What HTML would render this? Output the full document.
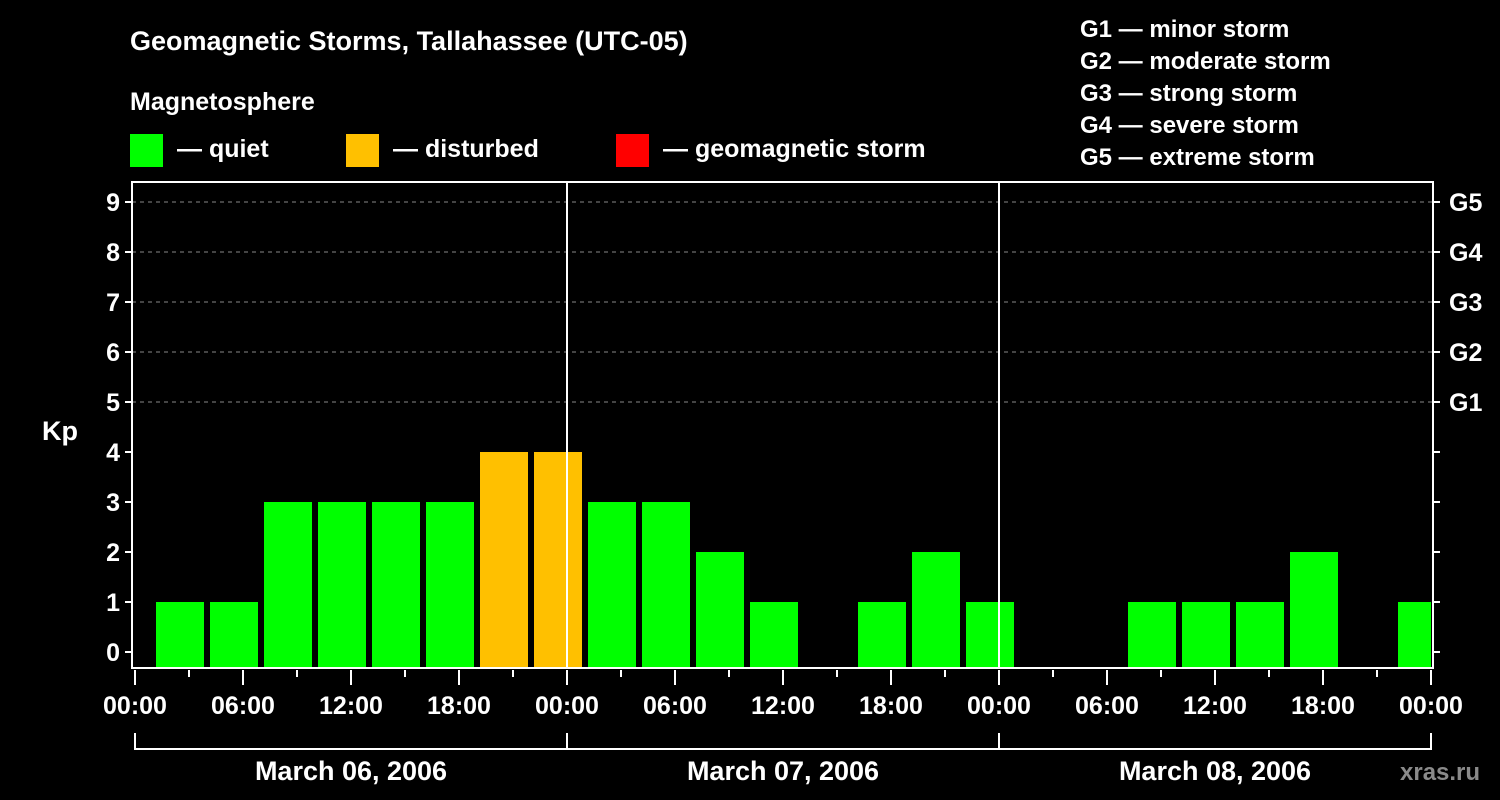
<!DOCTYPE html>
<html><head><meta charset="utf-8"><style>
html,body{margin:0;padding:0;background:#000;width:1500px;height:800px;overflow:hidden}
text{font-family:"Liberation Sans",Arial,sans-serif;font-weight:bold;fill:#fff}
</style></head><body>
<svg id="chart" width="1500" height="800" xmlns="http://www.w3.org/2000/svg">
<rect width="1500" height="800" fill="#000"/>
<text x="130" y="50" font-size="27">Geomagnetic Storms, Tallahassee (UTC-05)</text>
<text x="130" y="110" font-size="25">Magnetosphere</text>
<g>
<rect x="130" y="134" width="33" height="33" fill="#00ff00"/>
<text x="177" y="157" font-size="25">— quiet</text>
<rect x="346" y="134" width="33" height="33" fill="#ffc000"/>
<text x="393" y="157" font-size="25">— disturbed</text>
<rect x="616" y="134" width="33" height="33" fill="#ff0000"/>
<text x="663" y="157" font-size="25">— geomagnetic storm</text>
</g>
<g font-size="24">
<text x="1080" y="37">G1 — minor storm</text>
<text x="1080" y="69">G2 — moderate storm</text>
<text x="1080" y="101">G3 — strong storm</text>
<text x="1080" y="133">G4 — severe storm</text>
<text x="1080" y="165">G5 — extreme storm</text>
</g>
<text x="42" y="440" font-size="27">Kp</text>
<text x="1400" y="780" font-size="24" fill="#888" style="fill:#8a8a8a">xras.ru</text>
<g id="grid"></g>
<g id="bars"></g>
<g id="axes"></g>
</svg>
<script>
const kpValues = [1,1,3,3,3,3,4,4, 3,3,2,1,0,1,2,1, 0,0,1,1,1,2,0,1];
const kpTicks = [0,1,2,3,4,5,6,7,8,9];
const gLabels = ["G1","G2","G3","G4","G5"];
const hourLabels = ["00:00","06:00","12:00","18:00"];
const dateLabels = ["March 06, 2006","March 07, 2006","March 08, 2006"];
const startOffsetHours = 1;
const slotHours = 3;

const NS="http://www.w3.org/2000/svg";
const X0=135, PX_PER_H=18, L=132, R=1433, T=182, B=668;
const xs=h=>X0+h*PX_PER_H;
const ys=v=>652-v*50;
function mk(tag,attrs,parent){const e=document.createElementNS(NS,tag);for(const k in attrs)e.setAttribute(k,attrs[k]);parent.appendChild(e);return e;}
const grid=document.getElementById('grid'),bars=document.getElementById('bars'),axes=document.getElementById('axes');

kpTicks.forEach(v=>{
  if(v>=5){const g=mk('line',{x1:L,x2:R,y1:ys(v),y2:ys(v),stroke:'#888','stroke-dasharray':'4,4','stroke-width':1},grid);
  
  }
  const t=mk('line',{x1:L-7,x2:L,y1:ys(v),y2:ys(v),stroke:'#fff','stroke-width':2},axes);
  
  
  const t2=mk('line',{x1:R,x2:R+7,y1:ys(v),y2:ys(v),stroke:'#fff','stroke-width':2},axes);
  
  
  const tx=mk('text',{x:L-12,y:ys(v)+9,'text-anchor':'end','font-size':25},axes);
  tx.textContent=v;
  
  
});
gLabels.forEach((g,i)=>{
  const tx=mk('text',{x:1449,y:ys(5+i)+9,'font-size':25},axes);
  tx.textContent=g;
  
  
});

kpValues.forEach((v,i)=>{
  if(v<=0)return;
  const x=xs(startOffsetHours+i*slotHours)+3;
  let w=48; if(x+w>R-2) w=R-2-x;
  const col=v>=5?'#ff0000':(v>=4?'#ffc000':'#00ff00');
  const r=mk('rect',{x:x,y:ys(v),width:w,height:B-ys(v),fill:col},bars);
  
  
});

const fr=mk('rect',{x:L,y:T,width:R-L,height:B-T,fill:'none',stroke:'#fff','stroke-width':2},axes);


[1,2].forEach(d=>{
  const l=mk('line',{x1:xs(24*d),x2:xs(24*d),y1:T,y2:B,stroke:'#fff','stroke-width':2},axes);
  
  
});
for(let h=0;h<=72;h+=3){
  const major=h%6===0;
  const l=mk('line',{x1:xs(h),x2:xs(h),y1:B+2,y2:B+(major?17:9),stroke:'#fff','stroke-width':2},axes);
  
  
  if(major){
    const tx=mk('text',{x:xs(h),y:714,'text-anchor':'middle','font-size':25},axes);
    tx.textContent=hourLabels[(h/6)%4];
    
    
  }
}
dateLabels.forEach((d,i)=>{
  const a=xs(24*i),b=xs(24*(i+1));
  const p=mk('path',{d:`M${a} 733V749H${b}V733`,fill:'none',stroke:'#fff','stroke-width':2},axes);
  
  
  const tx=mk('text',{x:(a+b)/2,y:780,'text-anchor':'middle','font-size':27},axes);
  tx.textContent=d;
  
  
});
</script>
</body></html>
